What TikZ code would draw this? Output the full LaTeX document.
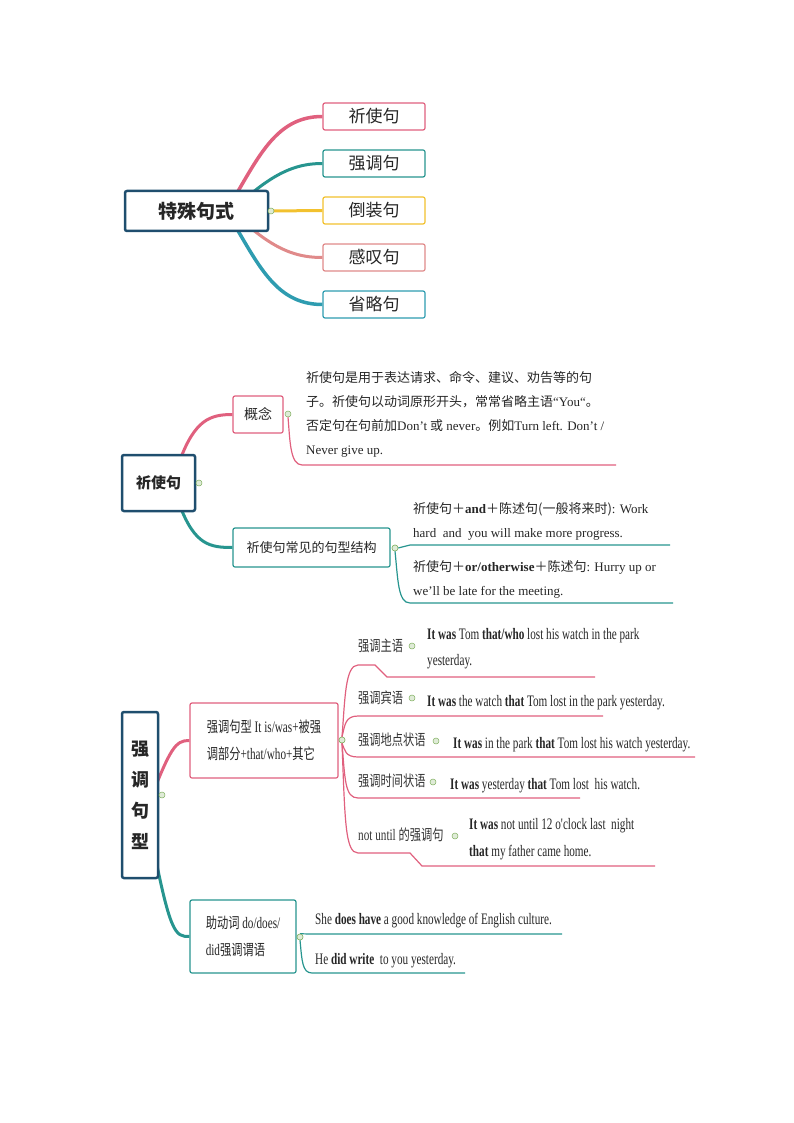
\documentclass[tikz,border=0pt]{standalone}
\usepackage{fontspec}
\setmainfont{Liberation Serif}
\newfontfamily\cjk{Noto Sans CJK SC}
\newfontfamily\nar[FakeStretch=0.7]{Liberation Serif}
\newfontfamily\cjknar[FakeStretch=0.75]{Noto Sans CJK SC}
\definecolor{pinkc}{HTML}{E0607E}
\definecolor{tealc}{HTML}{27958F}
\definecolor{yelc}{HTML}{F2C12E}
\definecolor{salc}{HTML}{E08A8A}
\definecolor{bluec}{HTML}{2E9CB0}
\definecolor{rootc}{HTML}{1F4E6E}
\definecolor{collg}{HTML}{7FAF5F}
\begin{document}
\begin{tikzpicture}[x=1pt,y=-1pt,
  box/.style={draw,line width=1.2pt,rounded corners=2pt,fill=white,inner sep=0pt,font=\cjk\fontsize{13}{15}\selectfont,text=black!85},
  bigbox/.style={box,font=\cjk\fontsize{17}{19}\selectfont},
  rootbox/.style={draw=rootc,line width=2.5pt,rounded corners=2pt,fill=white,inner sep=0pt,font=\cjk\bfseries\fontsize{15}{17}\selectfont,text=black!85},
  coll/.style={circle,draw=collg,fill=collg!25,line width=0.5pt,minimum size=6pt,inner sep=0pt},
  txt/.style={anchor=base west,inner sep=0pt,font=\fontsize{13}{15}\selectfont,text=black!85},
  ntxt/.style={anchor=base west,inner sep=0pt,font=\nar\fontsize{16}{18}\selectfont,text=black!85},
  lab/.style={anchor=base west,inner sep=0pt,font=\cjknar\fontsize{15}{17}\selectfont,text=black!80},
  thin/.style={line width=1.2pt},
  thick/.style={line width=3pt}]
\useasboundingbox (0,0) rectangle (794,1123);

% ---------- section 1 ----------
\coordinate (s1) at (237,193);
\coordinate (s2) at (252,193);
\coordinate (s4) at (252,229);
\coordinate (s5) at (237,229);
\node[bigbox,draw=pinkc,minimum width=102pt,minimum height=27pt] (a1) at (374,116.5) {祈使句};
\node[bigbox,draw=tealc,minimum width=102pt,minimum height=27pt] (a2) at (374,163.5) {强调句};
\node[bigbox,draw=yelc,minimum width=102pt,minimum height=27pt] (a3) at (374,210.5) {倒装句};
\node[bigbox,draw=salc,minimum width=102pt,minimum height=27pt] (a4) at (374,257.5) {感叹句};
\node[bigbox,draw=bluec,minimum width=102pt,minimum height=27pt] (a5) at (374,304.5) {省略句};
\draw[pinkc,line width=3.5pt] (s1) .. controls (262,150) and (280,116.5) .. (a1.west);
\draw[tealc,line width=3pt] (s2) .. controls (280,170) and (300,163.5) .. (a2.west);
\draw[yelc,line width=3pt] (271,211) -- (a3.west);
\draw[salc,line width=3pt] (s4) .. controls (280,252) and (300,257.5) .. (a4.west);
\draw[bluec,line width=3.5pt] (s5) .. controls (262,272) and (280,304.5) .. (a5.west);
\node[rootbox,minimum width=143pt,minimum height=40pt,font=\cjk\bfseries\fontsize{19}{21}\selectfont] (r1) at (196.5,211) {特殊句式};
\node[coll] (c1) at (271,211) {};

% ---------- section 2 ----------
\node[box,draw=pinkc,minimum width=50pt,minimum height=37pt,font=\cjk\fontsize{14}{16}\selectfont] (b1) at (258,414.5) {概念};
\node[box,draw=tealc,minimum width=157pt,minimum height=39pt] (b2) at (311.5,547.5) {祈使句常见的句型结构};
\draw[pinkc,thick] (180,460) .. controls (195,420) and (210,414.5) .. (b1.west);
\draw[tealc,thick] (180,506) .. controls (195,545) and (210,547.5) .. (b2.west);
\node[rootbox,minimum width=73pt,minimum height=56pt] (r2) at (158.5,483) {祈使句};
\node[coll] (c2r) at (199,483) {};
\node[coll] (c2) at (288,414) {};
\coordinate (u1) at (616,465);
\draw[pinkc,thin] (c2.south) .. controls (290,440) and (290,465) .. (302,465) -- (u1);
\node[txt] (t1) at (306,382) {\cjk 祈使句是用于表达请求、命令、建议、劝告等的句};
\node[txt] (t2) at (306,406) {\cjk 子。祈使句以动词原形开头，常常省略主语{\rmfamily“You“}。};
\node[txt] (t3) at (306,430) {\cjk 否定句在句前加{\rmfamily Don't} 或{\rmfamily\ never}。例如{\rmfamily Turn left. Don't /}};
\node[txt] (t4) at (306,454) {Never give up.};
\node[coll] (c3b) at (395,548) {};
\coordinate (u2a) at (670,545);
\coordinate (u2b) at (673,603);
\draw[tealc,thin] (c3b.east) -- (410,545) -- (u2a);
\draw[tealc,thin] (c3b.south) .. controls (398,580) and (398,603) .. (410,603) -- (u2b);
\node[coll] at (c3b) {};
\node[txt] (t5) at (413,513) {{\cjk 祈使句＋}\textbf{and}{\cjk ＋陈述句(一般将来时)}: Work};
\node[txt] (t6) at (413,537) {hard\ \ and\ \ you will make more progress.};
\node[txt] (t7) at (413,571) {{\cjk 祈使句＋}\textbf{or/otherwise}{\cjk ＋陈述句}: Hurry up or};
\node[txt] (t8) at (413,595) {we’ll be late for the meeting.};

% ---------- section 3 ----------
\node[box,draw=pinkc,minimum width=148pt,minimum height=75pt,align=left,font=\cjknar\fontsize{15}{27}\selectfont] (d1) at (264,740.5) {强调句型{\nar\fontsize{16}{27}\selectfont\ It is/was+}被强\\调部分{\nar\fontsize{16}{27}\selectfont +that/who+}其它};
\node[box,draw=tealc,minimum width=106pt,minimum height=73pt,align=left,font=\cjknar\fontsize{15}{27}\selectfont] (d2) at (243,936.5) {助动词{\nar\fontsize{16}{27}\selectfont\ do/does/}\\{\nar\fontsize{16}{27}\selectfont did}强调谓语};
\draw[pinkc,thick] (150,800) .. controls (170,750) and (175,740) .. (d1.west);
\draw[tealc,thick] (150,830) .. controls (170,935) and (175,936.5) .. (d2.west);
\node[rootbox,minimum width=36pt,minimum height=166pt,align=center,font=\cjk\bfseries\fontsize{18}{31}\selectfont] (r3) at (140,795) {强\\调\\句\\型};
\node[coll] (c3r) at (162,795) {};

\node[coll] (c4) at (342,740) {};
\coordinate (e1) at (595,677);
\coordinate (e2) at (603,716);
\coordinate (e3) at (695,757);
\coordinate (e4) at (580,798);
\coordinate (e5) at (655,866);
\draw[pinkc,thin] (c4.north) .. controls (345,700) and (345,665) .. (358,665) -- (375,665) -- (387,677) -- (e1);
\draw[pinkc,thin] (c4.north) .. controls (345,725) and (345,716) .. (358,716) -- (e2);
\draw[pinkc,thin] (c4.south) .. controls (345,750) and (345,757) .. (358,757) -- (e3);
\draw[pinkc,thin] (c4.south) .. controls (345,780) and (345,798) .. (358,798) -- (e4);
\draw[pinkc,thin] (c4.south) .. controls (345,820) and (345,853) .. (358,853) -- (410,853) -- (422,866) -- (e5);
\node[coll] at (c4) {};

\node[lab] (l1) at (358,651) {强调主语};
\node[coll] (k1) at (412,646) {};
\node[ntxt] (x1) at (427,639) {\textbf{It was} Tom \textbf{that/who} lost his watch in the park};
\node[ntxt] (x1b) at (427,665) {yesterday.};
\node[lab] (l2) at (358,703) {强调宾语};
\node[coll] (k2) at (412,698) {};
\node[ntxt] (x2) at (427,706) {\textbf{It was} the watch \textbf{that} Tom lost in the park yesterday.};
\node[lab] (l3) at (358,745) {强调地点状语};
\node[coll] (k3) at (436,741) {};
\node[ntxt] (x3) at (453,748) {\textbf{It was} in the park \textbf{that} Tom lost his watch yesterday.};
\node[lab] (l4) at (358,786) {强调时间状语};
\node[coll] (k4) at (433,782) {};
\node[ntxt] (x4) at (450,789) {\textbf{It was} yesterday \textbf{that} Tom lost\ \ his watch.};
\node[lab] (l5) at (358,840) {{\nar\fontsize{16}{18}\selectfont not until }的强调句};
\node[coll] (k5) at (455,836) {};
\node[ntxt] (x5) at (469,829) {\textbf{It was} not until 12 o'clock last\ \ night};
\node[ntxt] (x5b) at (469,856) {\textbf{that} my father came home.};

\node[coll] (c5) at (300,937) {};
\coordinate (f1) at (562,934);
\coordinate (f2) at (465,973);
\draw[tealc,thin] (c5.north) -- (310,934) -- (f1);
\draw[tealc,thin] (c5.south) .. controls (302,960) and (302,973) .. (312,973) -- (f2);
\node[coll] at (c5) {};
\node[ntxt] (y1) at (315,924) {She \textbf{does have} a good knowledge of English culture.};
\node[ntxt] (y2) at (315,964) {He \textbf{did write}\ \ to you yesterday.};
\end{tikzpicture}
\end{document}
